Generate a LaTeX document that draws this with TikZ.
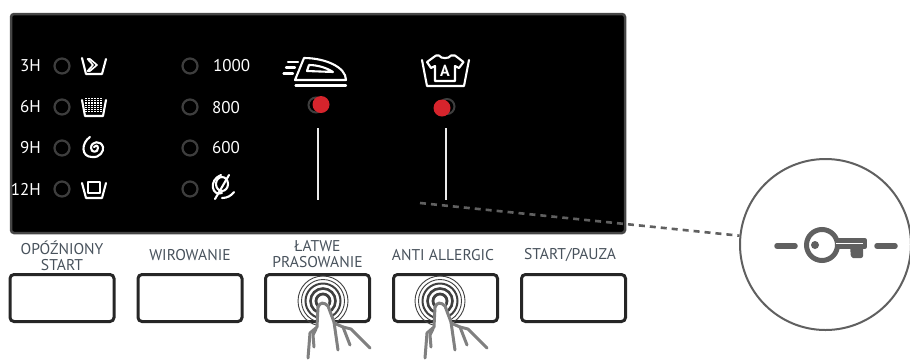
\documentclass[tikz,border=0pt]{standalone}
\usepackage{fontspec}
\setmainfont{PT Sans}
\usepackage{xcolor}
\usetikzlibrary{positioning}
\definecolor{panelBlack}{RGB}{0,0,0}
\definecolor{panelEdge}{RGB}{70,70,70}
\definecolor{ledGrey}{RGB}{62,62,62}
\definecolor{ledRed}{RGB}{214,36,44}
\definecolor{keyGrey}{RGB}{96,96,96}
\definecolor{labelGrey}{RGB}{72,82,92}
\definecolor{handGrey}{RGB}{128,128,128}
\tikzset{
    pics/touchhand/.style={code={
        \foreach \ringr/\ringw in {25/0.9, 21.5/0.9, 17.5/2, 12.5/2.6, 7/2.8} {
            \draw[black!75, line width=\ringw pt] (0,0) circle (\ringr);
        }
        \fill[white] (-5,6) -- (-6,26) -- (-13,32) -- (-15,57) -- (15,49) -- (47,47) -- (25,26) -- (12,21) -- (5,2) -- (0,1) -- cycle;
        \draw[handGrey, line width=3pt, line join=round, line cap=round]
            (-5,6) .. controls (-3,1) and (1,1) .. (5,5) -- (11,21) -- (15,49);
        \draw[handGrey, line width=3pt, line join=round, line cap=round]
            (-5,6) -- (-6,26) -- (-13,32) -- (-15,57);
        \draw[handGrey, line width=3pt, line join=round, line cap=round]
            (-7,28) -- (-10,34) -- (-9,46);
        \draw[handGrey, line width=3pt, line join=round, line cap=round]
            (11,22) -- (20,26) -- (27,44);
        \draw[handGrey, line width=3pt, line join=round, line cap=round]
            (20,26) -- (28,28) -- (34,34) -- (47,47) -- (38,38);
    }}
}
\begin{document}
\begin{tikzpicture}[x=1pt, y=-1pt,
    ledoff/.style={circle, draw=ledGrey, line width=2.2pt, minimum size=15pt, inner sep=0pt},
    ledon/.style={circle, fill=ledRed, minimum size=17pt, inner sep=0pt},
    panelkey/.style={draw=black!85, line width=3pt, rounded corners=4pt, fill=white, minimum width=104pt, minimum height=47pt, inner sep=0pt},
    timelabel/.style={text=white, font=\fontsize{17}{17}\selectfont, anchor=east, inner sep=0pt},
    speedlabel/.style={text=white, font=\fontsize{17}{17}\selectfont, anchor=west, inner sep=0pt},
    keylabel/.style={text=labelGrey, font=\fontsize{15.6}{15.5}\selectfont, align=center, inner sep=0pt},
    symbol/.style={draw=white, line width=2.1pt, line join=round, line cap=round},
    bar/.style={draw=white!92!black, line width=2pt},
    keysign/.style={draw=keyGrey, line width=5.5pt, line cap=round}
]
    \useasboundingbox (0,0) rectangle (910,360);
    \node[draw=panelEdge, line width=2.5pt, fill=panelBlack, rounded corners=3pt, minimum width=614pt, minimum height=219pt, inner sep=0pt] (panel) at (318,123.5) {};

    % time column
    \foreach \rowname/\rowy/\rowtext in {a/66/3H, b/107/6H, c/148/9H, d/189/12H} {
        \node[timelabel] (time\rowname) at (41,\rowy) {\rowtext};
        \node[ledoff] (timeled\rowname) at (62,\rowy) {};
        \node[ledoff] (speedled\rowname) at (190,\rowy) {};
    }
    \node[speedlabel] (speeda) at (213,66) {1000};
    \node[speedlabel] (speedb) at (212,108) {800};
    \node[speedlabel] (speedc) at (212,148) {600};

    % wash symbols
    \draw[symbol] (82,58) -- (86,74) -- (102,74) -- (106,59);
    \draw[symbol, line width=1.6pt] (90,59) -- (97,65) -- (90,71) -- (87.5,71) -- (93,65) -- (87.5,59) -- cycle;
    \draw[symbol] (82,100) -- (85,116) -- (103,116) -- (106,100);
    \foreach \dotx in {86,89,...,102} {
        \draw[white, line width=1.3pt, dash pattern=on 1.2pt off 1pt] (\dotx,98) -- (\dotx,112.5);
    }
    \draw[symbol] (90,137) .. controls (81,143) and (81,157) .. (92,157) .. controls (100,158) and (104,151) .. (103,147) .. controls (101,140) and (91,141) .. (91,148) .. controls (91,153) and (98,153) .. (98,148) .. controls (98,145) and (95,145) .. (94,147);
    \draw[symbol] (82,183) -- (86,198) -- (102,198) -- (106,183);
    \draw[symbol] (88,182) rectangle (100,193);

    % no spin symbol
    \draw[symbol] (229,175) -- (215,199);
    \draw[symbol] (221,175) .. controls (208,180) and (212,197) .. (222,193);
    \draw[symbol] (222,184) circle (6 and 7);
    \draw[symbol] (222,198) .. controls (227,198) and (231,196) .. (234,192);

    % iron
    \draw[symbol] (288,62) -- (298,62);
    \draw[symbol] (286,67.5) -- (295,67.5);
    \draw[symbol] (283.5,73.5) -- (293,73.5);
    \draw[symbol] (295,80) -- (304,58) .. controls (325,58) and (346,67) .. (346,80) -- cycle;
    \draw[symbol] (307,71) -- (309,65) .. controls (318,65) and (327,68) .. (333,72) -- cycle;
    \draw[symbol] (295.5,85.5) -- (346,85.5);

    % shirt in tub
    \draw[symbol] (422,60) -- (427,86) -- (464,86) -- (469,60);
    \draw[symbol] (427,62) -- (436,55.5) -- (439,55.5) .. controls (441,59) and (449,59) .. (451,55.5) -- (455,55.5) -- (463.5,62) -- (459,68) -- (455,66) -- (455,81) -- (435,81) -- (435,66) -- (431,68) -- cycle;
    \node[text=white, font=\fontsize{16}{16}\selectfont\bfseries, inner sep=0pt] (shirtmark) at (445,71) {A};

    % red leds with their shadows
    \draw[ledGrey, line width=2pt] (316,105) circle (7.5);
    \node[ledon] (ironled) at (321,104.5) {};
    \draw[ledGrey, line width=2pt] (447,106.5) circle (7.5);
    \node[ledon] (shirtled) at (442,108) {};
    \coordinate (irontop) at (317.5,128);
    \coordinate (ironend) at (317.5,200);
    \coordinate (shirttop) at (445.5,128);
    \coordinate (shirtend) at (445.5,200);
    \draw[bar] (irontop) -- (ironend);
    \draw[bar] (shirttop) -- (shirtend);

    % buttons
    \node[panelkey] (delaykey) at (62,298) {};
    \node[panelkey] (spinkey) at (190,298) {};
    \node[panelkey] (ironkey) at (317.5,298) {};
    \node[panelkey] (allergykey) at (445.5,298) {};
    \node[panelkey] (startkey) at (573.5,298) {};
    \node[keylabel] (delaytext) at (62,256) {OPÓŹNIONY\\START};
    \node[keylabel] (spintext) at (190,255) {WIROWANIE};
    \node[keylabel] (irontext) at (317.5,254) {ŁATWE\\PRASOWANIE};
    \node[keylabel] (allergytext) at (443,255) {ANTI ALLERGIC};
    \node[keylabel] (starttext) at (570,255) {START/PAUZA};

    % hands on the two buttons
    \pic at (323,301) {touchhand};
    \pic at (440,301) {touchhand};

    % enlarged key sign
    \node[draw=keyGrey, fill=white, circle, line width=2pt, minimum size=171pt, inner sep=0pt] (zoomcircle) at (825.5,244.5) {};
    \coordinate (dashstart) at (420,203);
    \draw[keyGrey, line width=2.6pt, dash pattern=on 6pt off 5pt] (dashstart) -- (zoomcircle);
    \draw[keysign] (777,246) -- (795,246);
    \draw[keysign] (877,246) -- (895,246);
    \draw[keyGrey, line width=5pt] (822,245) circle (15.5);
    \fill[keyGrey] (815,245) circle (4);
    \draw[keyGrey, line width=4.5pt, line join=round, fill=white] (836,240.5) -- (865,240.5) -- (865,246.5) -- (836,246.5);
    \fill[keyGrey] (850,246) -- (863,246) -- (863,255) [rounded corners=2pt] -- (863,258) -- (851,258) -- cycle;
\end{tikzpicture}
\end{document}
